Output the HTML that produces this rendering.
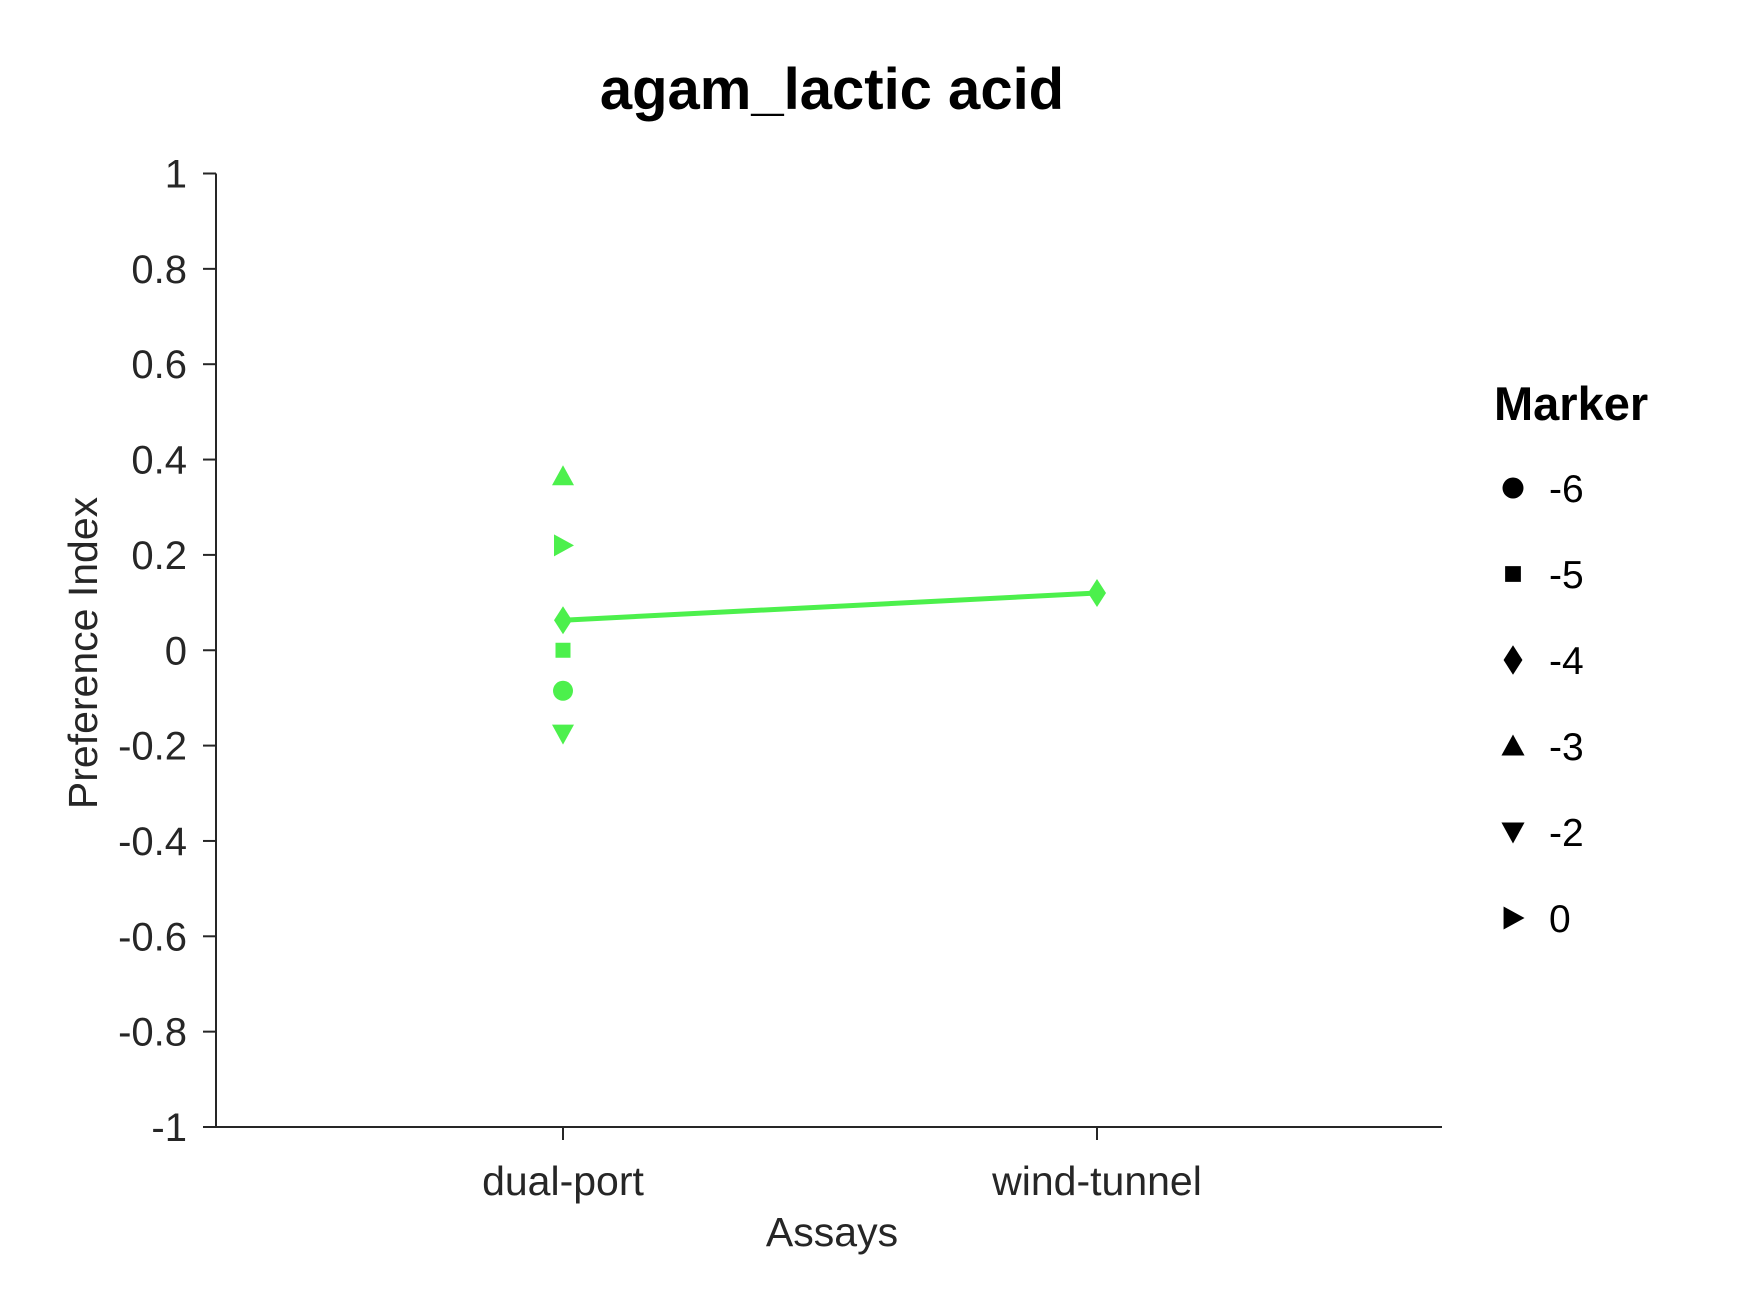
<!DOCTYPE html>
<html><head><meta charset="utf-8"><style>
html,body{margin:0;padding:0;background:#fff;}
svg{display:block;font-family:"Liberation Sans",Arial,sans-serif;}
</style></head><body>
<svg id="chart" width="1750" height="1313" viewBox="0 0 1750 1313">
<text x="832" y="109" text-anchor="middle" font-size="58" font-weight="bold" fill="#000">agam_lactic acid</text>
<g id="axes"></g>
<g id="marks"></g>
<text transform="translate(97,653) rotate(-90)" text-anchor="middle" font-size="41" fill="#262626">Preference Index</text>
<text x="832" y="1246" text-anchor="middle" font-size="41" fill="#262626">Assays</text>
<text x="1494" y="420" font-size="47" font-weight="bold" fill="#000">Marker</text>
<g id="legend"></g>
</svg>
<script>
const categories = ["dual-port", "wind-tunnel"];
const yTicks = [1, 0.8, 0.6, 0.4, 0.2, 0, -0.2, -0.4, -0.6, -0.8, -1];
const yTickLabels = ["1", "0.8", "0.6", "0.4", "0.2", "0", "-0.2", "-0.4", "-0.6", "-0.8", "-1"];
const markerKeys = ["-6", "-5", "-4", "-3", "-2", "0"];
const markerShapes = ["circle", "square", "diamond", "up", "down", "right"];
const dualPortValues = [-0.085, 0.0, 0.063, 0.365, -0.175, 0.22];
const lineSeriesValues = [0.063, 0.12];

const NS = "http://www.w3.org/2000/svg";
const L = 216, R = 1442, T = 173.5, B = 1127;
const xPos = [563, 1097];
function xScale(i){ return xPos[i]; }
function yScale(v){ return T + (1 - v) / 2 * (B - T); }
function mk(tag, attrs, parent){ const e = document.createElementNS(NS, tag); for (const k in attrs) e.setAttribute(k, attrs[k]); parent.appendChild(e); return e; }

function shape(kind, cx, cy, s, fill, parent){
  let e;
  if (kind === "circle") e = mk("circle", {cx, cy, r: 10*s, fill}, parent);
  else if (kind === "square") e = mk("rect", {x: cx-7.5*s, y: cy-7.5*s, width: 15*s, height: 15*s, fill}, parent);
  else if (kind === "diamond") e = mk("polygon", {points: `${cx},${cy-14*s} ${cx+9*s},${cy} ${cx},${cy+14*s} ${cx-9*s},${cy}`, fill}, parent);
  else if (kind === "up") e = mk("polygon", {points: `${cx},${cy-11*s} ${cx+11*s},${cy+9*s} ${cx-11*s},${cy+9*s}`, fill}, parent);
  else if (kind === "down") e = mk("polygon", {points: `${cx},${cy+11*s} ${cx+11*s},${cy-9*s} ${cx-11*s},${cy-9*s}`, fill}, parent);
  else e = mk("polygon", {points: `${cx+11*s},${cy} ${cx-9*s},${cy-11*s} ${cx-9*s},${cy+11*s}`, fill}, parent);
  return e;
}

const axes = document.getElementById("axes");
const yl = mk("line", {x1: L, y1: T, x2: L, y2: B, stroke: "#262626", "stroke-width": 2}, axes);


const xl = mk("line", {x1: L - 13, y1: B, x2: R, y2: B, stroke: "#262626", "stroke-width": 2}, axes);


yTicks.forEach((v, i) => {
  const y = yScale(v);
  const t = mk("line", {x1: L - 13, y1: y, x2: L, y2: y, stroke: "#262626", "stroke-width": 2}, axes);
  
  
  const lab = mk("text", {x: 187, y: y + 14, "text-anchor": "end", "font-size": 40, fill: "#262626"}, axes);
  lab.textContent = yTickLabels[i];
  
  
});
categories.forEach((c, i) => {
  const x = xScale(i);
  const t = mk("line", {x1: x, y1: B, x2: x, y2: B + 13, stroke: "#262626", "stroke-width": 2}, axes);
  
  
  const lab = mk("text", {x: x, y: 1195, "text-anchor": "middle", "font-size": 41, fill: "#262626"}, axes);
  lab.textContent = c;
  
  
});

const marks = document.getElementById("marks");
const green = "#4cf04c";
const ln = mk("polyline", {points: lineSeriesValues.map((v, i) => xScale(i) + "," + yScale(v)).join(" "), fill: "none", stroke: green, "stroke-width": 5}, marks);


dualPortValues.forEach((v, i) => {
  const m = shape(markerShapes[i], xScale(0), yScale(v), 1, green, marks);
  
  
});
const wt = shape("diamond", xScale(1), yScale(lineSeriesValues[1]), 1, green, marks);



const legend = document.getElementById("legend");
markerKeys.forEach((k, i) => {
  const cy = 488 + i * 86;
  const m = shape(markerShapes[i], 1513, cy, 1.05, "#000", legend);
  
  
  const t = mk("text", {x: 1549, y: cy + 14, "font-size": 39, fill: "#000"}, legend);
  t.textContent = k;
  
  
});
</script>
</body></html>
